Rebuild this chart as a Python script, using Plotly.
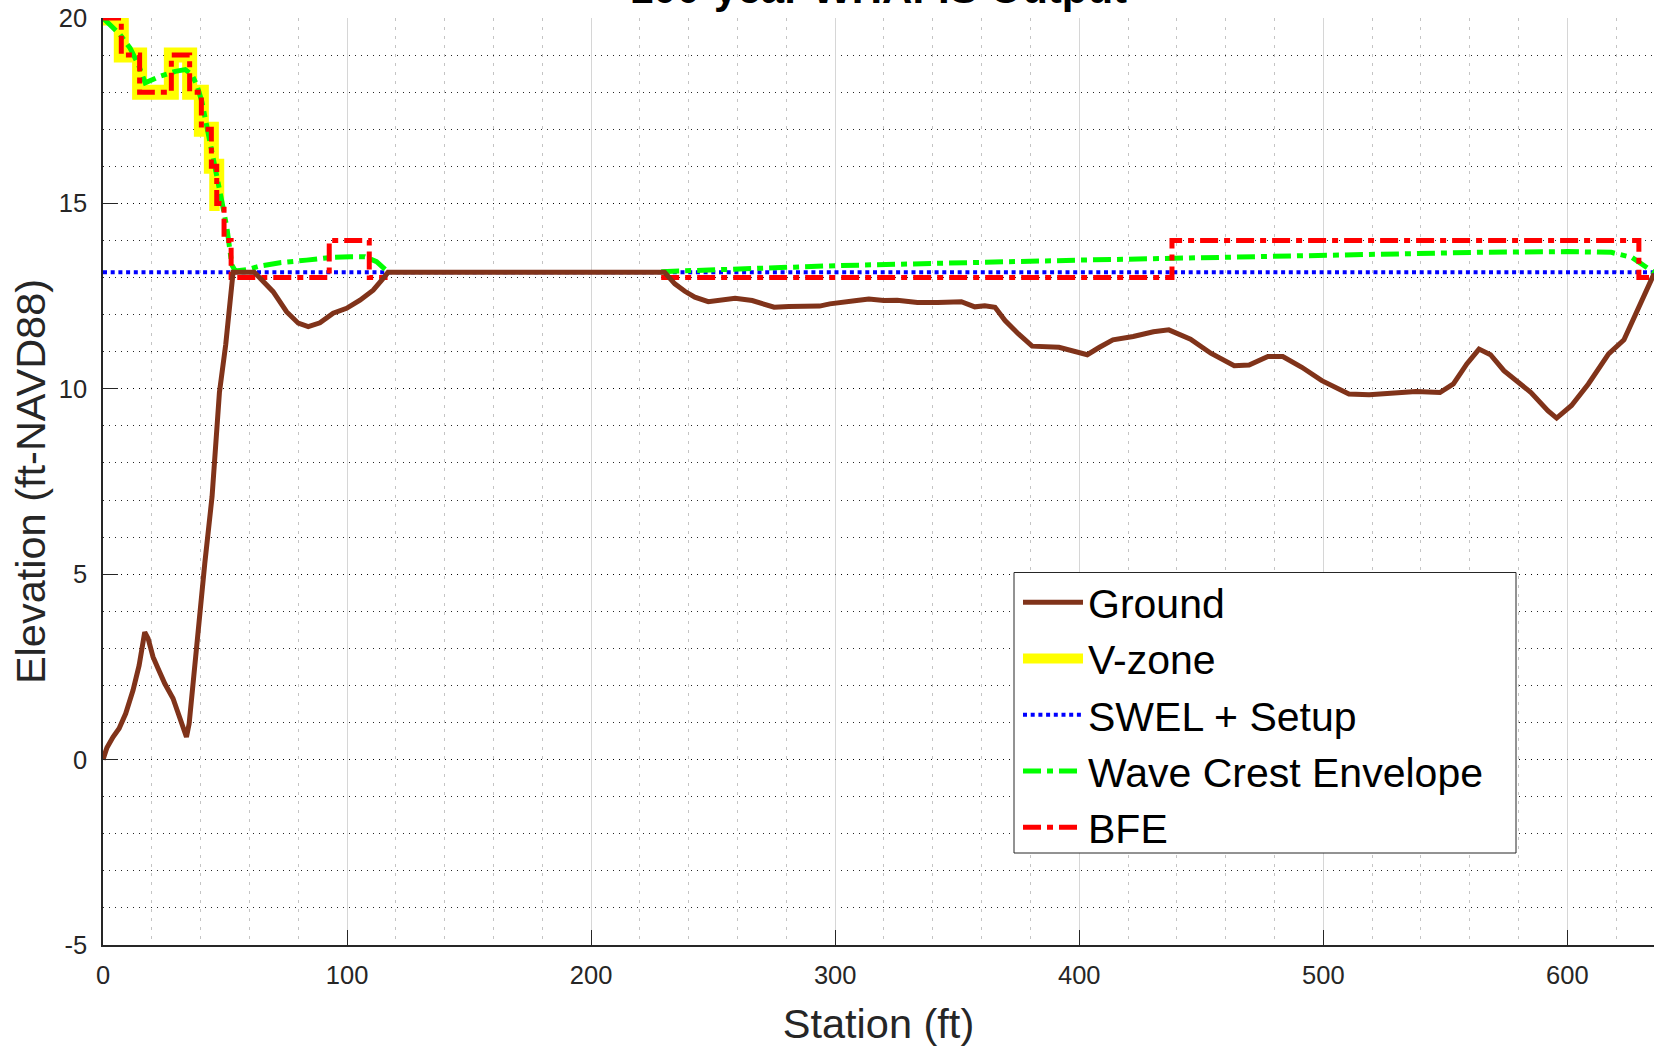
import plotly.graph_objects as go

# ---- transect data (station in ft, elevation in ft-NAVD88) ----
ground_station = [0, 1.6, 4.1, 6.6, 9.3, 12.3, 14.8, 17.1, 18.5, 20.5, 22.6, 25.3, 28.7, 31.5,
                  34.2, 35.3, 36.9, 39.0, 40.3, 41.7, 44.7, 47.7, 50.3, 52.3, 53.3, 62.0, 64.9,
                  69.7, 75.2, 80.0, 84.1, 88.9, 94.3, 99.8, 105.3, 110.7, 114.2, 116.8, 230.1,
                  234.3, 238.4, 242.5, 248.0, 253.6, 259.0, 266.0, 270.0, 275.0, 281.0, 286.7,
                  293.6, 297.8, 304.7, 308.8, 313.8, 319.9, 325.4, 333.7, 342.0, 351.7, 357.2,
                  361.3, 365.5, 369.6, 375.1, 380.7, 391.7, 397.2, 403.3, 408.3, 413.8, 422.1,
                  430.4, 436.7, 445.6, 453.9, 463.5, 469.6, 477.3, 483.4, 491.2, 499.4, 510.5,
                  518.8, 528.5, 538.0, 547.8, 553.3, 558.8, 563.8, 568.5, 574.0, 585.1, 592.0,
                  595.6, 601.7, 608.6, 616.9, 623.2, 627.9, 632.0, 635.5]
ground_elev = [0.0, 0.32, 0.61, 0.84, 1.24, 1.87, 2.54, 3.44, 3.26, 2.77, 2.45, 2.05, 1.65, 1.15,
               0.61, 0.97, 2.14, 3.58, 4.48, 5.29, 7.1, 9.9, 11.2, 12.4, 13.14, 13.14, 12.93,
               12.62, 12.08, 11.77, 11.68, 11.78, 12.04, 12.17, 12.39, 12.66, 12.93, 13.14, 13.14,
               12.83, 12.63, 12.47, 12.35, 12.40, 12.44, 12.38, 12.29, 12.20, 12.22, 12.23,
               12.23, 12.29, 12.33, 12.38, 12.42, 12.38, 12.39, 12.33, 12.33, 12.35, 12.21,
               12.24, 12.20, 11.84, 11.48, 11.15, 11.12, 11.03, 10.92, 11.12, 11.32, 11.41,
               11.54, 11.59, 11.34, 10.96, 10.62, 10.64, 10.87, 10.87, 10.58, 10.22, 9.86,
               9.84, 9.88, 9.93, 9.90, 10.13, 10.67, 11.07, 10.92, 10.49, 9.90, 9.41,
               9.21, 9.55, 10.13, 10.94, 11.32, 12.02, 12.65, 13.10]

# Still-water elevation plus wave setup
swel_station = [0, 635.5]
swel_elev = [13.14, 13.14]

# Wave crest envelope (None marks the dry stretch)
wave_station = [0, 7.0, 11.1, 14.5, 17.3, 23.4, 29.6, 33.7, 36.4, 38.4, 40.5, 42.5, 44.6, 46.6,
                48.7, 50.8, 52.1, 52.8, 54.2, 59.4, 64.3, 72.5, 83.4, 93.0, 101.2, 107.3, 112.1,
                116.8, None, 228.7, 300.0, 400.0, 438.0, 500.0, 563.0, 600.0, 618.0, 626.5, 635.5]
wave_elev = [20.0, 19.55, 19.19, 18.74, 18.25, 18.43, 18.56, 18.61, 18.47, 18.2, 17.75, 17.12,
             16.49, 15.77, 15.05, 14.33, 13.79, 13.34, 13.18, 13.22, 13.31, 13.40, 13.47, 13.54,
             13.56, 13.56, 13.43, 13.15, None, 13.16, 13.32, 13.47, 13.52, 13.61, 13.68, 13.70,
             13.68, 13.54, 13.14]

# Base flood elevation, stepped (value holds until the next station)
bfe_station = [0, 7.5, 15.0, 28.0, 35.5, 40.3, 44.4, 46.6, 49.6, 52.5, 92.7, 109.1, 116.6,
               None, 228.7, 438.0, 629.3, 635.5]
bfe_elev = [20, 19, 18, 19, 18, 17, 16, 15, 14, 13, 14, 13, 13,
            None, 13, 14, 13, 13]

# V-zone reach (follows the BFE steps)
vzone_station = [0, 7.5, 15.0, 28.0, 35.5, 40.3, 44.4, 46.6, 47.8]
vzone_elev = [20, 19, 18, 19, 18, 17, 16, 15, 15]

x_ticks = [0, 100, 200, 300, 400, 500, 600]
x_tick_labels = ["0", "100", "200", "300", "400", "500", "600"]
y_ticks = [-5, 0, 5, 10, 15, 20]
y_tick_labels = ["-5", "0", "5", "10", "15", "20"]

FONT = "Liberation Sans, Arial, Helvetica, sans-serif"
AXIS_GRAY = "#262626"

# plot-area geometry in pixels, used to place the legend frame
W, H = 1656, 1051
ML, MR, MT, MB = 103, 2, 18, 106
PW, PH = W - ML - MR, H - MT - MB


def px_x(px):
    return (px - ML) / PW


def px_y(py):
    return 1 - (py - MT) / PH


fig = go.Figure()

fig.add_trace(go.Scatter(
    x=vzone_station, y=vzone_elev, name="V-zone", mode="lines", line_shape="hv",
    line=dict(color="#FFFF00", width=15), legendrank=2))
fig.add_trace(go.Scatter(
    x=swel_station, y=swel_elev, name="SWEL + Setup", mode="lines",
    line=dict(color="#0000FF", width=4, dash="4px,3.7px"), legendrank=3))
fig.add_trace(go.Scatter(
    x=wave_station, y=wave_elev, name="Wave Crest Envelope", mode="lines",
    line=dict(color="#00FF00", width=5, dash="18px,6px,6px,6px"), legendrank=4))
fig.add_trace(go.Scatter(
    x=bfe_station, y=bfe_elev, name="BFE", mode="lines", line_shape="hv",
    line=dict(color="#FF0000", width=5, dash="18px,6px,6px,6px"), legendrank=5))
fig.add_trace(go.Scatter(
    x=ground_station, y=ground_elev, name="Ground", mode="lines",
    line=dict(color="#80331A", width=5), legendrank=1))

fig.add_annotation(
    text="<b>100-year WHAFIS Output</b>", xref="paper", yref="paper", x=0.5, y=1,
    xanchor="center", yanchor="bottom", yshift=4, showarrow=False,
    font=dict(family=FONT, size=42, color="#000000"))

# legend frame
fig.add_shape(
    type="rect", xref="paper", yref="paper",
    x0=px_x(1014), x1=px_x(1516), y0=px_y(853), y1=px_y(572.5),
    line=dict(color=AXIS_GRAY, width=1), fillcolor="white", layer="above")

fig.update_layout(
    width=W, height=H,
    margin=dict(l=ML, r=MR, t=MT, b=MB, autoexpand=False),
    paper_bgcolor="white", plot_bgcolor="white",
    font=dict(family=FONT, color=AXIS_GRAY),
    showlegend=True,
    legend=dict(
        x=px_x(1018), y=px_y(569), xanchor="left", yanchor="top",
        bgcolor="rgba(0,0,0,0)", borderwidth=0,
        font=dict(family=FONT, size=41, color="#000000"),
        itemwidth=60, tracegroupgap=0,
    ),
    xaxis=dict(
        range=[0, 635.5], tickmode="array", tickvals=x_ticks, ticktext=x_tick_labels,
        ticks="inside", ticklen=15, tickcolor=AXIS_GRAY, tickwidth=1,
        showline=True, linecolor=AXIS_GRAY, linewidth=1.5, zeroline=False,
        showgrid=True, gridcolor="#d6d6d6", gridwidth=1,
        minor=dict(tickmode="linear", tick0=0, dtick=20, showgrid=True,
                   gridcolor="#c4c4c4", griddash="3px,6px", gridwidth=1, ticks=""),
        tickfont=dict(family=FONT, size=25.5, color=AXIS_GRAY),
        ticklabelstandoff=7,
        title=dict(text="Station (ft)", font=dict(family=FONT, size=41.5, color=AXIS_GRAY),
                   standoff=21),
    ),
    yaxis=dict(
        range=[-5, 20], tickmode="array", tickvals=y_ticks, ticktext=y_tick_labels,
        ticks="inside", ticklen=15, tickcolor=AXIS_GRAY, tickwidth=1,
        showline=True, linecolor=AXIS_GRAY, linewidth=1.5, zeroline=False,
        showgrid=True, gridcolor="rgba(0,0,0,0.85)", griddash="1.3px,4.7px", gridwidth=1,
        minor=dict(tickmode="linear", tick0=0, dtick=1, showgrid=True,
                   gridcolor="rgba(0,0,0,0.85)", griddash="1.3px,4.7px", gridwidth=1, ticks=""),
        tickfont=dict(family=FONT, size=25.5, color=AXIS_GRAY),
        ticklabelstandoff=9,
        title=dict(text="Elevation (ft-NAVD88)", font=dict(family=FONT, size=41.5, color=AXIS_GRAY),
                   standoff=0),
    ),
)

fig.write_html("out.html")
